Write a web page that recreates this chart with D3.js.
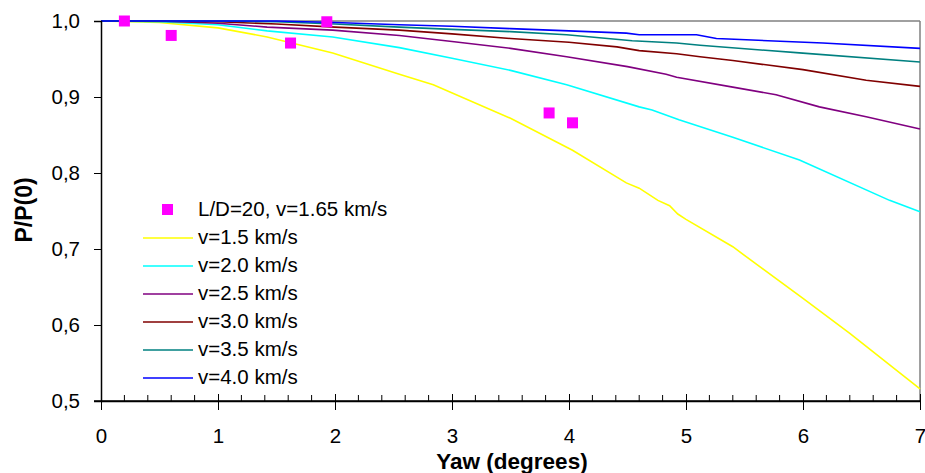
<!DOCTYPE html>
<html><head><meta charset="utf-8">
<script src="https://cdn.jsdelivr.net/npm/d3@7"></script>
<style>html,body{margin:0;padding:0;background:#fff;}svg{display:block;font-family:"Liberation Sans",Arial,sans-serif;}</style>
</head><body><svg id="c" width="925" height="473"></svg>
<script>
const xTicks = [0,1,2,3,4,5,6,7];
const yTicks = [0.5,0.6,0.7,0.8,0.9,1.0];
const yTickLabels = ["0,5","0,6","0,7","0,8","0,9","1,0"];

const expLabel = "L/D=20, v=1.65 km/s";
const expX = [0.2,0.6,1.62,1.93,3.83,4.03];
const expY = [1.0,0.981,0.971,0.999,0.879,0.866];

const seriesNames = ["v=1.5 km/s","v=2.0 km/s","v=2.5 km/s","v=3.0 km/s","v=3.5 km/s","v=4.0 km/s"];
const seriesColors = ["#FFFF00","#00FFFF","#800080","#800000","#008080","#0000FF"];

const v15x = [0,0.5,1,1.42,1.98,2.55,2.84,3.5,4.03,4.49,4.6,4.76,4.86,4.93,5.0,5.4,5.61,6.0,6.4,7.0];
const v15y = [1.0,0.998,0.991,0.979,0.958,0.930,0.916,0.872,0.830,0.787,0.780,0.764,0.757,0.746,0.739,0.703,0.679,0.635,0.589,0.516];
const v20x = [0,0.5,1,1.42,1.98,2.55,3.0,3.5,3.98,4.6,4.71,4.94,5.4,5.97,6.74,7.0];
const v20y = [1.0,0.999,0.995,0.987,0.979,0.965,0.951,0.935,0.916,0.887,0.883,0.870,0.847,0.817,0.764,0.749];
const v25x = [0,0.5,1,1.42,1.98,2.55,3.0,3.5,3.98,4.5,4.83,4.92,5.4,5.77,6.14,6.54,7.0];
const v25y = [1.0,1.0,0.997,0.992,0.988,0.981,0.973,0.964,0.953,0.940,0.930,0.926,0.913,0.903,0.887,0.874,0.858];
const v30x = [0,1,1.5,2,2.55,3,3.5,4,4.41,4.6,4.92,5.12,5.4,6,6.54,7];
const v30y = [1.0,0.999,0.996,0.992,0.988,0.983,0.977,0.972,0.966,0.961,0.957,0.953,0.948,0.936,0.922,0.914];
const v35x = [0,1,1.5,2,2.55,3,3.5,3.98,4.54,4.92,5.12,5.97,7];
const v35y = [1.0,1.0,0.999,0.996,0.992,0.989,0.986,0.982,0.974,0.971,0.968,0.958,0.946];
const v40x = [0,1,1.5,2,2.55,3,3.5,4,4.49,4.6,5.09,5.26,6.17,7];
const v40y = [1.0,1.0,1.0,0.998,0.995,0.993,0.990,0.987,0.984,0.982,0.982,0.977,0.971,0.964];
const seriesX = [v15x,v20x,v25x,v30x,v35x,v40x];
const seriesY = [v15y,v20y,v25y,v30y,v35y,v40y];

const svg = d3.select("#c");
const L = 101, R = 920, T = 21, B = 401;
const FS = 20.5;
const x = d3.scaleLinear().domain([0,7]).range([L,R]);
const y = d3.scaleLinear().domain([0.5,1.0]).range([B,T]);

// frame top/right
svg.append("line").attr("x1",L).attr("x2",R).attr("y1",T).attr("y2",T).attr("stroke","#808080").attr("stroke-width",1.5);
svg.append("line").attr("x1",R).attr("x2",R).attr("y1",T).attr("y2",B).attr("stroke","#808080").attr("stroke-width",1.5);

// lines
const line = d3.line().x(d=>x(d[0])).y(d=>y(d[1]));
seriesX.forEach((xs,i)=>{
  const pts = xs.map((v,j)=>[v,seriesY[i][j]]);
  svg.append("path").attr("d",line(pts)).attr("fill","none").attr("stroke",seriesColors[i]).attr("stroke-width",1.6);
});

// experimental points
svg.selectAll("rect.exp").data(expX.map((v,i)=>[v,expY[i]])).enter().append("rect")
  .attr("class","exp").attr("x",d=>x(d[0])-5.5).attr("y",d=>y(d[1])-5.5)
  .attr("width",11).attr("height",11).attr("fill","#FF00FF");

// axes
const xMinor = d3.range(0,7.01,0.2).filter(v=>Math.abs(v-Math.round(v))>1e-6);
const xAxisG = svg.append("g").attr("transform",`translate(0,${B})`);
xAxisG.selectAll("line.minor").data(xMinor).enter().append("line")
  .attr("x1",d=>x(d)).attr("x2",d=>x(d)).attr("y1",-6).attr("y2",0).attr("stroke","#000");
const xAxis = d3.axisBottom(x).tickValues(xTicks).tickSize(0).tickPadding(0).tickFormat(d3.format("d"));
xAxisG.call(xAxis);
xAxisG.select(".domain").attr("stroke","#000").attr("stroke-width",1.5);
xAxisG.selectAll(".tick").append("line").attr("y1",-7).attr("y2",9).attr("stroke","#000");
xAxisG.selectAll(".tick text").attr("y",42).attr("dy",0).attr("font-size",FS).attr("font-family","Liberation Sans, Arial, sans-serif").attr("fill","#000");

const yAxisG = svg.append("g").attr("transform",`translate(${L},0)`);
const yAxis = d3.axisLeft(y).tickValues(yTicks).tickSize(7).tickPadding(14).tickFormat((d,i)=>yTickLabels[i]);
yAxisG.call(yAxis);
yAxisG.select(".domain").attr("stroke","#000").attr("stroke-width",1.5);
yAxisG.selectAll(".tick line").attr("stroke","#000");
yAxisG.selectAll(".tick text").attr("font-size",FS).attr("dy","0.33em").attr("font-family","Liberation Sans, Arial, sans-serif").attr("fill","#000");
// redraw bottom domain on top
svg.append("line").attr("x1",L-7).attr("x2",R).attr("y1",B).attr("y2",B).attr("stroke","#000").attr("stroke-width",1.5);

// axis titles
svg.append("text").attr("x",512).attr("y",469).attr("text-anchor","middle").attr("font-weight","bold").attr("font-size",22.5).text("Yaw (degrees)");
svg.append("text").attr("transform","translate(32,210) rotate(-90)").attr("text-anchor","middle").attr("font-weight","bold").attr("font-size",23).text("P/P(0)");

// legend
const lg = svg.append("g");
lg.append("rect").attr("x",162).attr("y",204).attr("width",11).attr("height",11).attr("fill","#FF00FF");
lg.append("text").attr("x",198).attr("y",216).attr("font-size",FS).text(expLabel);
seriesNames.forEach((n,i)=>{
  const yy = 238 + i*28;
  lg.append("line").attr("x1",143).attr("x2",193).attr("y1",yy).attr("y2",yy).attr("stroke",seriesColors[i]).attr("stroke-width",1.6);
  lg.append("text").attr("x",198).attr("y",yy+6).attr("font-size",FS).text(n);
});
</script></body></html>
